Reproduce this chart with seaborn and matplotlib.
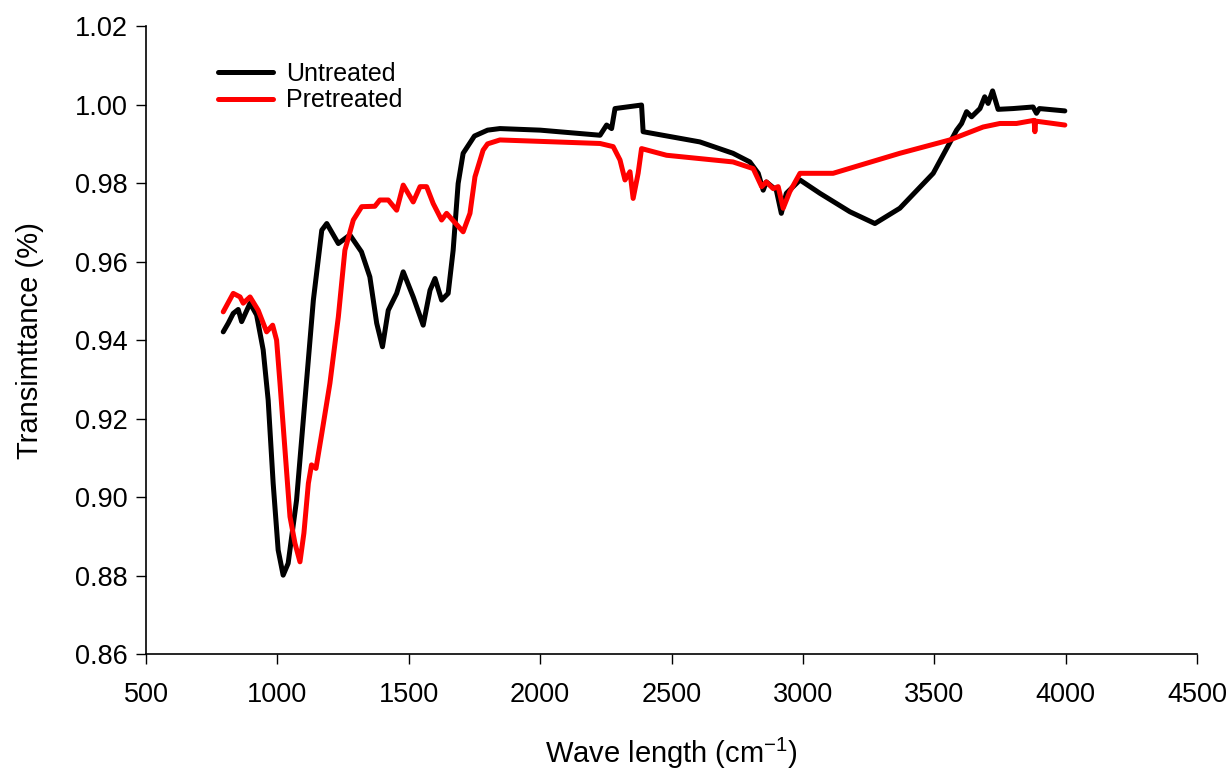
import matplotlib
matplotlib.use("Agg")
import matplotlib.pyplot as plt
import pandas as pd
import seaborn as sns

# Untreated spectrum (wavenumber, transmittance)
UNTREATED_X = [794, 813, 832, 851, 864, 896, 921, 946, 965, 984, 1003, 1022, 1041,
               1073, 1105, 1137, 1169, 1188, 1232, 1276, 1320, 1352, 1378, 1400,
               1422, 1454, 1479, 1517, 1555, 1581, 1600, 1625, 1650, 1669, 1688,
               1707, 1750, 1800, 1847, 2000, 2228, 2253, 2272, 2285, 2386, 2392,
               2608, 2734, 2798, 2830, 2849, 2861, 2899, 2918, 2937, 2989, 3065,
               3179, 3274, 3369, 3496, 3585, 3604, 3623, 3642, 3674, 3692, 3705,
               3722, 3743, 3800, 3876, 3889, 3900, 3997]
UNTREATED_Y = [0.9421, 0.9443, 0.9468, 0.9478, 0.9447, 0.9494, 0.9464, 0.9375,
               0.9247, 0.9035, 0.8865, 0.8801, 0.8831, 0.8992, 0.9247, 0.9502,
               0.9680, 0.9697, 0.9646, 0.9668, 0.9625, 0.9561, 0.9443, 0.9383,
               0.9476, 0.9519, 0.9574, 0.9510, 0.9438, 0.9527, 0.9557, 0.9502,
               0.9519, 0.9629, 0.9799, 0.9876, 0.9920, 0.9935, 0.9939, 0.9935,
               0.9922, 0.9948, 0.9939, 0.9990, 0.9999, 0.9931, 0.9905, 0.9876,
               0.9854, 0.9825, 0.9782, 0.9803, 0.9782, 0.9723, 0.9774, 0.9808,
               0.9774, 0.9727, 0.9697, 0.9736, 0.9825, 0.9935, 0.9952, 0.9982,
               0.9969, 0.9990, 1.0020, 1.0003, 1.0035, 0.9988, 0.9990, 0.9994,
               0.9978, 0.9990, 0.9984]

# Pretreated spectrum
PRETREATED_X = [794, 832, 858, 870, 896, 927, 959, 982, 997, 1010, 1029, 1048,
                1067, 1086, 1101, 1118, 1130, 1147, 1169, 1200, 1232, 1257, 1289,
                1321, 1371, 1390, 1422, 1454, 1479, 1517, 1543, 1568, 1593, 1625,
                1644, 1707, 1733, 1752, 1783, 1800, 1847, 2228, 2278, 2304, 2323,
                2342, 2354, 2373, 2386, 2481, 2734, 2811, 2843, 2861, 2887, 2906,
                2925, 2950, 2989, 3115, 3369, 3559, 3686, 3750, 3813, 3880, 3883,
                3886, 3997]
PRETREATED_Y = [0.9472, 0.9519, 0.9510, 0.9494, 0.9510, 0.9476, 0.9421, 0.9438,
                0.9400, 0.9290, 0.9120, 0.8950, 0.8882, 0.8835, 0.8908, 0.9035,
                0.9082, 0.9073, 0.9162, 0.9290, 0.9459, 0.9629, 0.9706, 0.9740,
                0.9741, 0.9757, 0.9757, 0.9731, 0.9795, 0.9752, 0.9791, 0.9791,
                0.9748, 0.9706, 0.9723, 0.9676, 0.9723, 0.9816, 0.9884, 0.9900,
                0.9910, 0.9901, 0.9893, 0.9859, 0.9808, 0.9829, 0.9761, 0.9825,
                0.9888, 0.9871, 0.9854, 0.9837, 0.9791, 0.9803, 0.9786, 0.9791,
                0.9736, 0.9778, 0.9825, 0.9825, 0.9876, 0.9910, 0.9943, 0.9952,
                0.9952, 0.9960, 0.9931, 0.9958, 0.9948]

X_TICKS = [500, 1000, 1500, 2000, 2500, 3000, 3500, 4000, 4500]
Y_TICKS = [0.86, 0.88, 0.90, 0.92, 0.94, 0.96, 0.98, 1.00, 1.02]

df = pd.concat([
    pd.DataFrame({"x": UNTREATED_X, "y": UNTREATED_Y, "sample": "Untreated"}),
    pd.DataFrame({"x": PRETREATED_X, "y": PRETREATED_Y, "sample": "Pretreated"}),
], ignore_index=True)

sns.set_style("ticks")
plt.rcParams["font.family"] = ["Liberation Sans", "DejaVu Sans"]
plt.rcParams["text.color"] = "black"

fig, ax = plt.subplots(figsize=(12.32, 7.69), dpi=100)
fig.subplots_adjust(left=0.1185, right=0.9716, top=0.966, bottom=0.1495)

sns.lineplot(data=df, x="x", y="y", hue="sample", estimator=None, sort=False,
             palette={"Untreated": "black", "Pretreated": "#ff0000"},
             linewidth=3.6, ax=ax)

ax.set_xlim(500, 4500)
ax.set_ylim(0.86, 1.02)
ax.set_xticks(X_TICKS)
ax.set_yticks(Y_TICKS)
ax.set_yticklabels([f"{t:.2f}" for t in Y_TICKS])
ax.tick_params(axis="both", labelsize=19.5, length=7, width=1, direction="out",
               color="black", labelcolor="black")
ax.tick_params(axis="x", pad=13)
ax.tick_params(axis="y", pad=6)
sns.despine(ax=ax)
for s in ("left", "bottom"):
    ax.spines[s].set_linewidth(1.2)
    ax.spines[s].set_color("black")

ax.set_xlabel("Wave length (cm$^{\\mathregular{-1}}$)", fontsize=21, labelpad=20,
              color="black")
ax.set_ylabel("Transimttance (%)", fontsize=21, labelpad=22, color="black")

ax.legend(title=None, frameon=False, fontsize=18, loc="upper left",
          bbox_to_anchor=(0.0475, 0.979), handlelength=2.2, labelspacing=0.1,
          handletextpad=0.5, labelcolor="black")

fig.savefig("out.png", dpi=100)
